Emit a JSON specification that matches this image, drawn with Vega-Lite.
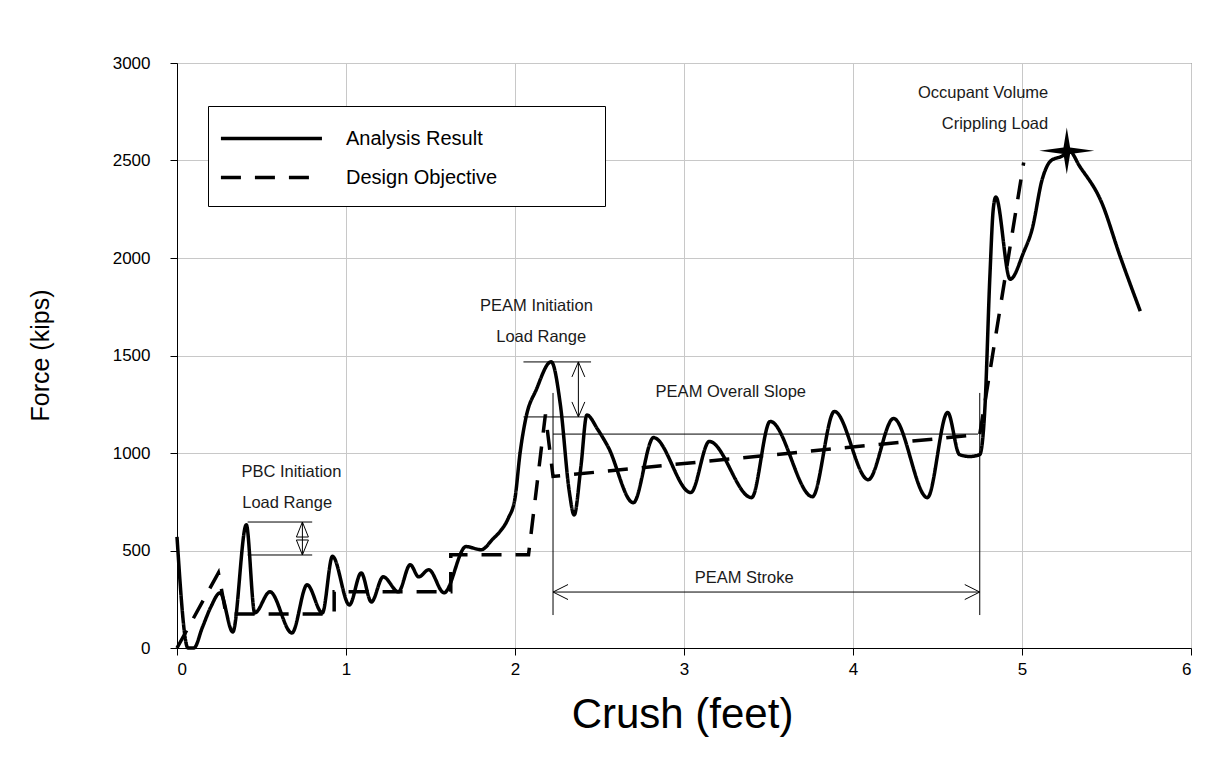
{
  "$schema": "https://vega.github.io/schema/vega-lite/v6.json",
  "width": 1014,
  "height": 585,
  "autosize": {"type": "none"},
  "padding": {"left": 177, "top": 63, "right": 34, "bottom": 119},
  "background": "white",
  "config": {
    "view": {"stroke": "#333333", "strokeWidth": 1},
    "font": "Liberation Sans",
    "axis": {
      "grid": true,
      "gridColor": "#c8c8c8",
      "gridWidth": 1,
      "domainColor": "#000000",
      "domainWidth": 1,
      "tickColor": "#000000",
      "tickSize": 7,
      "labelFont": "Liberation Sans",
      "labelFontSize": 17,
      "labelColor": "#000000",
      "titleFont": "Liberation Sans",
      "titleFontWeight": "normal",
      "titleColor": "#000000"
    }
  },
  "datasets": {
    "curves": [
      {"series": "Analysis Result", "crush": 0, "force": 570},
      {"series": "Analysis Result", "crush": 0.065, "force": 0},
      {"series": "Analysis Result", "crush": 0.1, "force": 0},
      {"series": "Analysis Result", "crush": 0.15, "force": 105},
      {"series": "Analysis Result", "crush": 0.2, "force": 210},
      {"series": "Analysis Result", "crush": 0.255, "force": 283},
      {"series": "Analysis Result", "crush": 0.33, "force": 82},
      {"series": "Analysis Result", "crush": 0.41, "force": 632},
      {"series": "Analysis Result", "crush": 0.46, "force": 180},
      {"series": "Analysis Result", "crush": 0.55, "force": 288},
      {"series": "Analysis Result", "crush": 0.68, "force": 77},
      {"series": "Analysis Result", "crush": 0.77, "force": 324},
      {"series": "Analysis Result", "crush": 0.86, "force": 180},
      {"series": "Analysis Result", "crush": 0.92, "force": 470},
      {"series": "Analysis Result", "crush": 1.02, "force": 221},
      {"series": "Analysis Result", "crush": 1.09, "force": 385},
      {"series": "Analysis Result", "crush": 1.15, "force": 236},
      {"series": "Analysis Result", "crush": 1.22, "force": 365},
      {"series": "Analysis Result", "crush": 1.31, "force": 288},
      {"series": "Analysis Result", "crush": 1.38, "force": 427},
      {"series": "Analysis Result", "crush": 1.43, "force": 365},
      {"series": "Analysis Result", "crush": 1.49, "force": 401},
      {"series": "Analysis Result", "crush": 1.58, "force": 283},
      {"series": "Analysis Result", "crush": 1.71, "force": 520},
      {"series": "Analysis Result", "crush": 1.8, "force": 504},
      {"series": "Analysis Result", "crush": 1.87, "force": 560},
      {"series": "Analysis Result", "crush": 1.91, "force": 596},
      {"series": "Analysis Result", "crush": 1.96, "force": 665},
      {"series": "Analysis Result", "crush": 2.0, "force": 768},
      {"series": "Analysis Result", "crush": 2.03, "force": 1000},
      {"series": "Analysis Result", "crush": 2.066, "force": 1186},
      {"series": "Analysis Result", "crush": 2.125, "force": 1323},
      {"series": "Analysis Result", "crush": 2.214, "force": 1468},
      {"series": "Analysis Result", "crush": 2.27, "force": 1237},
      {"series": "Analysis Result", "crush": 2.32, "force": 810},
      {"series": "Analysis Result", "crush": 2.35, "force": 682},
      {"series": "Analysis Result", "crush": 2.39, "force": 930},
      {"series": "Analysis Result", "crush": 2.425, "force": 1195},
      {"series": "Analysis Result", "crush": 2.49, "force": 1120},
      {"series": "Analysis Result", "crush": 2.55, "force": 1033},
      {"series": "Analysis Result", "crush": 2.7, "force": 745},
      {"series": "Analysis Result", "crush": 2.82, "force": 1079},
      {"series": "Analysis Result", "crush": 3.04, "force": 797},
      {"series": "Analysis Result", "crush": 3.15, "force": 1059},
      {"series": "Analysis Result", "crush": 3.4, "force": 771},
      {"series": "Analysis Result", "crush": 3.51, "force": 1162},
      {"series": "Analysis Result", "crush": 3.76, "force": 776},
      {"series": "Analysis Result", "crush": 3.89, "force": 1213},
      {"series": "Analysis Result", "crush": 4.09, "force": 863},
      {"series": "Analysis Result", "crush": 4.24, "force": 1177},
      {"series": "Analysis Result", "crush": 4.44, "force": 771},
      {"series": "Analysis Result", "crush": 4.56, "force": 1208},
      {"series": "Analysis Result", "crush": 4.63, "force": 992},
      {"series": "Analysis Result", "crush": 4.69, "force": 982},
      {"series": "Analysis Result", "crush": 4.75, "force": 992},
      {"series": "Analysis Result", "crush": 4.78, "force": 1223},
      {"series": "Analysis Result", "crush": 4.81, "force": 1907},
      {"series": "Analysis Result", "crush": 4.83, "force": 2251},
      {"series": "Analysis Result", "crush": 4.845, "force": 2313},
      {"series": "Analysis Result", "crush": 4.93, "force": 1891},
      {"series": "Analysis Result", "crush": 5.01, "force": 2030},
      {"series": "Analysis Result", "crush": 5.06, "force": 2148},
      {"series": "Analysis Result", "crush": 5.12, "force": 2405},
      {"series": "Analysis Result", "crush": 5.17, "force": 2498},
      {"series": "Analysis Result", "crush": 5.24, "force": 2524},
      {"series": "Analysis Result", "crush": 5.28, "force": 2549},
      {"series": "Analysis Result", "crush": 5.34, "force": 2472},
      {"series": "Analysis Result", "crush": 5.47, "force": 2287},
      {"series": "Analysis Result", "crush": 5.58, "force": 2010},
      {"series": "Analysis Result", "crush": 5.7, "force": 1727},
      {"series": "Design Objective", "crush": 0, "force": 0},
      {"series": "Design Objective", "crush": 0.245, "force": 385},
      {"series": "Design Objective", "crush": 0.29, "force": 175},
      {"series": "Design Objective", "crush": 0.93, "force": 175},
      {"series": "Design Objective", "crush": 0.93, "force": 288},
      {"series": "Design Objective", "crush": 1.62, "force": 288},
      {"series": "Design Objective", "crush": 1.62, "force": 478},
      {"series": "Design Objective", "crush": 2.08, "force": 478},
      {"series": "Design Objective", "crush": 2.18, "force": 1198},
      {"series": "Design Objective", "crush": 2.225, "force": 880},
      {"series": "Design Objective", "crush": 4.75, "force": 1095},
      {"series": "Design Objective", "crush": 5.01, "force": 2490}
    ],
    "guides": [
      {"x": 0.418, "x2": 0.8, "y": 646, "y2": 646},
      {"x": 0.418, "x2": 0.8, "y": 477, "y2": 477},
      {"x": 0.742, "x2": 0.742, "y": 646, "y2": 477},
      {"x": 2.05, "x2": 2.45, "y": 1467, "y2": 1467},
      {"x": 2.05, "x2": 2.41, "y": 1185, "y2": 1185},
      {"x": 2.375, "x2": 2.375, "y": 1467, "y2": 1185},
      {"x": 2.225, "x2": 4.74, "y": 1097, "y2": 1097},
      {"x": 2.225, "x2": 2.225, "y": 1308, "y2": 169},
      {"x": 4.75, "x2": 4.75, "y": 1308, "y2": 169},
      {"x": 2.225, "x2": 4.75, "y": 287, "y2": 287}
    ],
    "heads": [
      {"x": 0.742, "y": 646, "head": "up-closed"},
      {"x": 0.742, "y": 477, "head": "down-closed"},
      {"x": 2.375, "y": 1467, "head": "up"},
      {"x": 2.375, "y": 1185, "head": "down"},
      {"x": 2.225, "y": 287, "head": "left"},
      {"x": 4.75, "y": 287, "head": "right"}
    ],
    "notes": [
      {"x": 0.677, "y": 903, "text": "PBC Initiation"},
      {"x": 0.652, "y": 744, "text": "Load Range"},
      {"x": 2.127, "y": 1754, "text": "PEAM Initiation"},
      {"x": 2.155, "y": 1595, "text": "Load Range"},
      {"x": 3.277, "y": 1314, "text": "PEAM Overall Slope"},
      {"x": 3.356, "y": 359, "text": "PEAM Stroke"},
      {"x": 4.77, "y": 2846, "text": "Occupant Volume"},
      {"x": 4.84, "y": 2687, "text": "Crippling Load"}
    ],
    "star": [
      {"x": 5.265, "y": 2550}
    ]
  },
  "layer": [
    {
      "data": {"name": "guides"},
      "mark": {"type": "rule", "color": "#000000", "strokeWidth": 1},
      "encoding": {
        "x": {"field": "x", "type": "quantitative", "scale": {"domain": [0, 6], "nice": false},
              "axis": {"values": [0, 1, 2, 3, 4, 5, 6], "format": "d", "title": "Crush (feet)", "titleFontSize": 42, "titleX": 505, "titleY": 66, "titleBaseline": "middle", "labelPadding": 6}},
        "x2": {"field": "x2"},
        "y": {"field": "y", "type": "quantitative", "scale": {"domain": [0, 3000], "nice": false},
              "axis": {"values": [0, 500, 1000, 1500, 2000, 2500, 3000], "format": "d", "title": "Force (kips)", "titleFontSize": 25, "titleX": -137, "titleY": 292, "titleAngle": -90, "titleAlign": "center", "titleBaseline": "middle", "labelPadding": 20}},
        "y2": {"field": "y2"}
      }
    },
    {
      "data": {"name": "curves"},
      "transform": [{"filter": "datum.series === 'Design Objective'"}],
      "mark": {"type": "line", "color": "#000000", "strokeWidth": 3.5, "interpolate": "linear"},
      "encoding": {
        "x": {"field": "crush", "type": "quantitative"},
        "y": {"field": "force", "type": "quantitative"},
        "strokeDash": {"field": "series", "type": "nominal",
          "scale": {"domain": ["Analysis Result", "Design Objective"], "range": [[1, 0], [20, 14]]},
          "legend": {"orient": "none", "legendX": 31, "legendY": 43, "title": null, "direction": "vertical",
            "strokeColor": "#000000", "fillColor": "#ffffff", "padding": 18,
            "symbolType": "M-1.55,0H6.45", "symbolSize": 638, "symbolStrokeWidth": 3.5, "symbolStrokeColor": "#000000",
            "labelFont": "Liberation Sans", "labelFontSize": 20, "labelColor": "#000000", "labelOffset": 91,
            "rowPadding": 14, "labelLimit": 600,
            "labelExpr": "datum.label + '\u00a0\u00a0\u00a0\u00a0\u00a0\u00a0\u00a0\u00a0\u00a0\u00a0\u00a0\u00a0\u00a0\u00a0\u00a0\u00a0\u200b'"}
        },
        "order": {"field": "crush", "type": "quantitative"}
      }
    },
    {
      "data": {"name": "curves"},
      "transform": [{"filter": "datum.series === 'Analysis Result'"}],
      "mark": {"type": "line", "color": "#000000", "strokeWidth": 3.5, "interpolate": "monotone"},
      "encoding": {
        "x": {"field": "crush", "type": "quantitative"},
        "y": {"field": "force", "type": "quantitative"},
        "strokeDash": {"field": "series", "type": "nominal"},
        "order": {"field": "crush", "type": "quantitative"}
      }
    },
    {
      "data": {"name": "heads"},
      "mark": {"type": "point", "filled": false, "stroke": "#000000", "strokeWidth": 1, "size": 900, "opacity": 1},
      "encoding": {
        "x": {"field": "x", "type": "quantitative"},
        "y": {"field": "y", "type": "quantitative"},
        "shape": {"field": "head", "type": "nominal", "legend": null,
          "scale": {"domain": ["up", "down", "left", "right", "up-closed", "down-closed"],
            "range": ["M-0.43,1L0,0L0.43,1", "M-0.43,-1L0,0L0.43,-1", "M1,-0.5L0,0L1,0.5", "M-1,-0.5L0,0L-1,0.5", "M-0.4,1L0,0L0.4,1Z", "M-0.4,-1L0,0L0.4,-1Z"]}}
      }
    },
    {
      "data": {"name": "star"},
      "mark": {"type": "point", "filled": true, "color": "#000000", "size": 3025, "opacity": 1,
        "shape": "M0,-0.85L0.12,-0.12L1,0L0.12,0.12L0,0.85L-0.12,0.12L-1,0L-0.12,-0.12Z"},
      "encoding": {
        "x": {"field": "x", "type": "quantitative"},
        "y": {"field": "y", "type": "quantitative"}
      }
    },
    {
      "data": {"name": "notes"},
      "mark": {"type": "text", "font": "Liberation Sans", "fontSize": 16.5, "color": "#1a1a1a", "align": "center", "baseline": "middle"},
      "encoding": {
        "x": {"field": "x", "type": "quantitative"},
        "y": {"field": "y", "type": "quantitative"},
        "text": {"field": "text", "type": "nominal"}
      }
    }
  ]
}
